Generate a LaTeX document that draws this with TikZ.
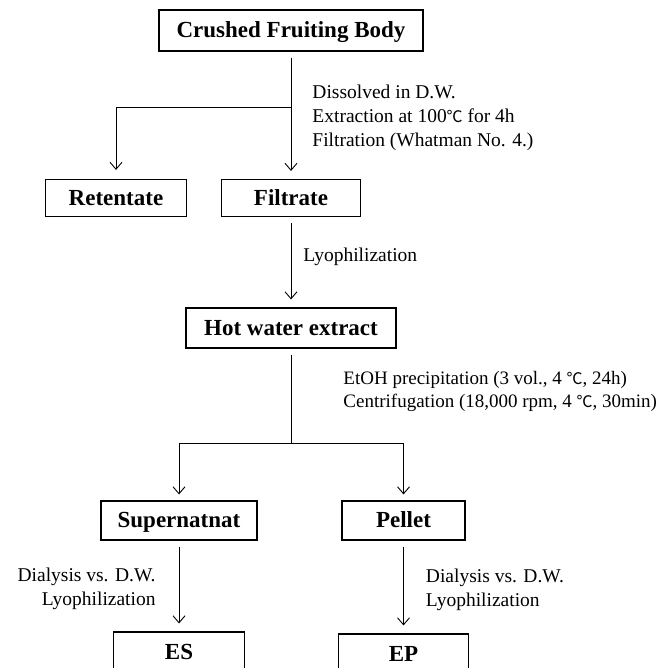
\documentclass[tikz,border=0pt]{standalone}
\usepackage{fontspec}
\setmainfont{Liberation Serif}
\newfontfamily\cjk{Noto Sans CJK SC}
\usepackage{tikz}
\usetikzlibrary{arrows.meta}
\newcommand{\dgc}{{\cjk\fontsize{16}{16}\selectfont ℃}}

\tikzset{
  box/.style={draw, line width=1.1pt, inner sep=0pt, text height=16pt, text depth=2pt,
    font=\fontsize{23}{26}\selectfont\bfseries},
  note/.style={inner sep=0pt, align=left,
    font=\fontsize{19.5}{24}\selectfont},
}

\begin{document}
\begin{tikzpicture}[x=1pt, y=-1pt, line width=0.9pt,
    >={Straight Barb[length=7pt, width=12pt]}]
    \clip (0,0) rectangle (664,668);
    \node[box, minimum width=264pt, minimum height=41pt](cfb) at (291,30.5){Crushed Fruiting Body};
    \node[box, minimum width=139pt, minimum height=37pt](fil)[below of=cfb, node distance=167.5pt]{Filtrate};
    \node[box, minimum width=141pt, minimum height=37pt](ret)[left of=fil, node distance=175pt]{Retentate};
    \node[box, minimum width=210pt, minimum height=40pt](hwe)[below of=fil, node distance=130pt]{Hot water extract};
    \node[box, minimum width=156pt, minimum height=39pt](sup)[below of=hwe, node distance=192.5pt, xshift=-112pt]{Supernatnat};
    \node[box, minimum width=123pt, minimum height=39pt](pel)[right of=sup, node distance=224.5pt]{Pellet};
    \node[box, minimum width=131pt, minimum height=40pt](es)[below of=sup, node distance=131.5pt]{ES};
    \node[box, minimum width=130pt, minimum height=40pt](ep)[below of=pel, node distance=133.5pt]{EP};
    \coordinate (br1) at (291,107);
    \coordinate (br2) at (291,443);
    \path[->, shorten <=6pt, shorten >=8pt] (cfb) edge node[note, right, xshift=21pt, yshift=-3pt]{Dissolved in D.W.\\Extraction at 100\dgc\ for 4h\\Filtration (Whatman No. 4.)} (fil)
    (fil) edge node[note, right, xshift=12pt, yshift=5pt]{Lyophilization} (hwe)
    (sup) edge node[note, left, align=right, xshift=-23pt, yshift=-3pt]{Dialysis vs. D.W.\\Lyophilization} (es)
    (pel) edge node[note, right, xshift=22pt, yshift=-3pt]{Dialysis vs. D.W.\\Lyophilization} (ep);
    \draw[->, shorten >=9pt] (br1) -| (ret);
    \draw[shorten <=6pt] (hwe) -- node[note, right, xshift=52pt, yshift=4pt, font=\fontsize{19}{23}\selectfont]{EtOH precipitation (3 vol., 4 \dgc, 24h)\\Centrifugation (18,000 rpm, 4 \dgc, 30min)} (br2);
    \draw[->, shorten >=6pt] (br2) -| (sup);
    \draw[->, shorten >=6pt] (br2) -| (pel);
\end{tikzpicture}
\end{document}
